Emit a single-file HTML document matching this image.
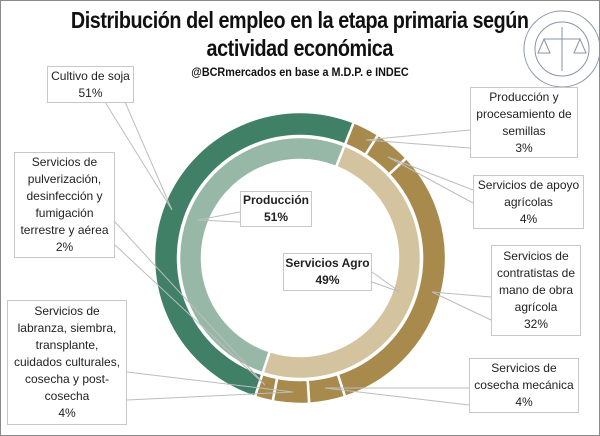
<!DOCTYPE html>
<html><head><meta charset="utf-8"><style>
body{margin:0;background:#fff}
#w{position:relative;width:600px;height:436px;overflow:hidden;font-family:"Liberation Sans",sans-serif}
.b{position:absolute;background:#fff;border:1px solid #c8c8c8;font-size:12px;line-height:17px;text-align:center;color:#222;box-sizing:border-box;display:flex;align-items:center;justify-content:center}
.t{position:absolute;left:0;width:600px;text-align:center;font-weight:bold;color:#111}
</style></head><body><div id="w">
<svg width="600" height="436" style="position:absolute;left:0;top:0">
<rect x="0.5" y="0.5" width="599" height="435" fill="#fff" stroke="#8a8a8a"/>
<g id="d"></g>
<g stroke="#bdbdbd" stroke-width="1" fill="none">
<polyline points="105,102 172,210 125,102"/>
<polyline points="115,222 265,385 115,245"/>
<polyline points="127,372 293,392 127,400"/>
<polyline points="470,130 366,140 470,148"/>
<polyline points="473,190 388,157 473,203"/>
<polyline points="491,297 432,292 491,320"/>
<polyline points="469,388 325,388 469,405"/>
<polyline points="240,212 198,220 240,222"/>
<polyline points="372,272 400,292 372,282"/>
</g>
<g transform="translate(562,49)" stroke="#8a94a8" fill="none">
<circle r="38"/><circle r="27"/>
<line x1="0" y1="-22" x2="0" y2="22"/><line x1="-18" y1="-10" x2="18" y2="-10"/>
<path d="M-18,-10 l-6,14 h12 z M18,-10 l-6,14 h12 z"/>
</g>
</svg>
<div class="t" style="top:7px;font-size:23px;letter-spacing:-0.5px;transform:scaleX(0.86);transform-origin:298px 0">Distribución del empleo en la etapa primaria según</div>
<div class="t" style="top:35px;font-size:23px;letter-spacing:-0.5px;transform:scaleX(0.86);transform-origin:298px 0">actividad económica</div>
<div class="t" style="top:65px;font-size:12px;transform:scaleX(0.9);transform-origin:300px 0">@BCRmercados en base a M.D.P. e INDEC</div>
<div class="b" style="left:47px;top:66px;width:87px;height:37px">Cultivo de soja<br>51%</div>
<div class="b" style="left:14px;top:152px;width:101px;height:106px">Servicios de<br>pulverización,<br>desinfección y<br>fumigación<br>terrestre y aérea<br>2%</div>
<div class="b" style="left:7px;top:300px;width:120px;height:125px">Servicios de<br>labranza, siembra,<br>transplante,<br>cuidados culturales,<br>cosecha y post-<br>cosecha<br>4%</div>
<div class="b" style="left:470px;top:87px;width:108px;height:71px">Producción y<br>procesamiento de<br>semillas<br>3%</div>
<div class="b" style="left:473px;top:175px;width:111px;height:54px">Servicios de apoyo<br>agrícolas<br>4%</div>
<div class="b" style="left:491px;top:245px;width:90px;height:91px">Servicios de<br>contratistas de<br>mano de obra<br>agrícola<br>32%</div>
<div class="b" style="left:469px;top:358px;width:110px;height:55px">Servicios de<br>cosecha mecánica<br>4%</div>
<div class="b" style="left:240px;top:191px;width:72px;height:36px;font-weight:bold">Producción<br>51%</div>
<div class="b" style="left:283px;top:253px;width:89px;height:38px;font-weight:bold">Servicios Agro<br>49%</div>
<script>
var cx=300,cy=258,g=document.getElementById('d');
function P(a,r){a=a*Math.PI/180;return [cx+r*Math.sin(a),cy-r*Math.cos(a)];}
function seg(a0,a1,r0,r1,c){var p1=P(a0,r1),p2=P(a1,r1),p3=P(a1,r0),p4=P(a0,r0),l=(a1-a0)>180?1:0;
var d='M'+p1+' A'+r1+','+r1+' 0 '+l+' 1 '+p2+' L'+p3+' A'+r0+','+r0+' 0 '+l+' 0 '+p4+'Z';
var e=document.createElementNS('http://www.w3.org/2000/svg','path');e.setAttribute('d',d);e.setAttribute('fill',c);e.setAttribute('stroke','#fff');e.setAttribute('stroke-width','2.5');g.appendChild(e);}
var s=21.6,o=[[3,'#a88b4c'],[4,'#a88b4c'],[32,'#a88b4c'],[4,'#a88b4c'],[4,'#a88b4c'],[2,'#a88b4c'],[51,'#3f8066']],a=s;
o.forEach(function(v){var b=a+v[0]*3.6;seg(a,b,122,146,v[1]);a=b;});
seg(s,s+176.4,98,121,'#d3c39e');seg(s+176.4,s+360,98,121,'#97b8a6');
</script>
</div></body></html>
